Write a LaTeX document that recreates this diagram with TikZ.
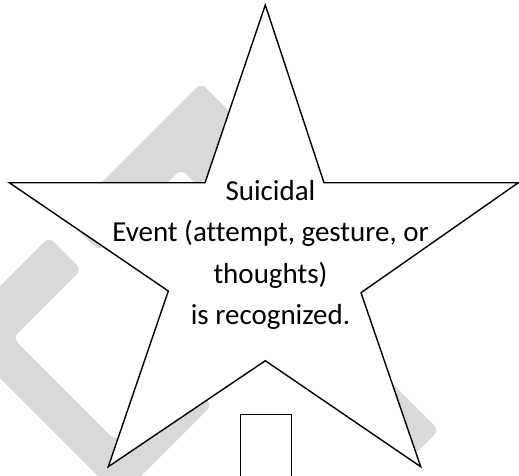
\documentclass[tikz,border=0pt]{standalone}
\usepackage{fontspec}
\setmainfont{Carlito}[Ligatures=NoCommon]
\definecolor{wmgrey}{gray}{0.85}

\tikzset{
  wmark/.style={fill=wmgrey,draw=none,rounded corners=7pt},
  outline/.style={draw=black,line width=1.4pt,line join=miter},
}

\begin{document}
\begin{tikzpicture}[x=1pt,y=-1pt]
  \useasboundingbox (0,0) rectangle (519,475);
  \clip (0,0) rectangle (519,475);
  % faint watermark, turned by 45 degrees
  \begin{scope}[x={(-0.5pt,-0.5pt)},y={(0.5pt,-0.5pt)}]
    \fill[wmark] (-118,284) -- (152,284) -- (152,350) -- (-12,350)
      -- (-12,385) -- (-118,385) -- cycle;
    \fill[wmark] (188,286) -- (378,286) -- (378,617) -- (193,617)
      -- (193,557) -- (325,557) -- (325,351) -- (188,351) -- cycle;
    \fill[wmark] (-9,440) -- (50,440) -- (50,869) -- (-9,869) -- cycle;
  \end{scope}
  % the star
  \draw[outline,fill=white] (265.3,5) -- (324,182.7) -- (518.3,182.7)
    -- (361,292.7) -- (420.7,466.7) -- (265.3,360.7) -- (108.3,466.7)
    -- (168.3,291) -- (9.3,182.7) -- (205,182.7) -- cycle;
  \node[font=\fontsize{29}{41.3}\selectfont,align=center,inner sep=0pt]
    (event) at (270.5,255)
    {Suicidal\\Event (attempt, gesture, or\\thoughts)\\is recognized.};
  % top of the next box
  \node[outline,fill=white,anchor=north,minimum width=50.8pt,
    minimum height=80pt,inner sep=0pt] (nextstep) at (265.9,413.7) {};
\end{tikzpicture}
\end{document}
